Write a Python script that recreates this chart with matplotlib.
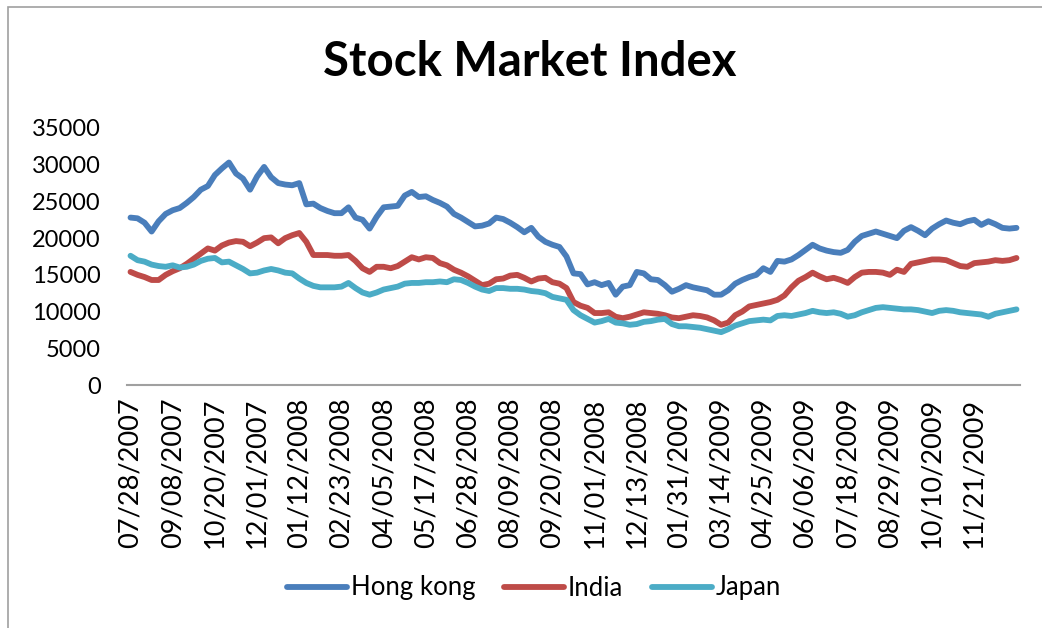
import matplotlib
matplotlib.use('Agg')
import matplotlib.pyplot as plt
from matplotlib.patches import Rectangle

# weekly closes, 07/28/2007 .. end of 2009
hong_kong = [22800, 22700, 22100, 20900, 22300, 23300, 23800, 24100, 24800, 25600,
             26600, 27100, 28600, 29500, 30300, 28800, 28100, 26600, 28400, 29700,
             28300, 27500, 27300, 27200, 27500, 24600, 24700, 24100, 23700, 23400,
             23400, 24200, 22800, 22500, 21300, 22900, 24200, 24300, 24400, 25800,
             26300, 25600, 25700, 25200, 24800, 24300, 23300, 22800, 22200, 21600,
             21700, 22000, 22800, 22600, 22100, 21500, 20800, 21400, 20200, 19500,
             19100, 18800, 17500, 15200, 15100, 13700, 14000, 13600, 13900, 12300,
             13400, 13600, 15400, 15200, 14400, 14300, 13600, 12700, 13100, 13600,
             13300, 13100, 12900, 12300, 12300, 12900, 13800, 14300, 14700, 15000,
             15900, 15400, 16900, 16800, 17100, 17700, 18400, 19100, 18600, 18300,
             18100, 18000, 18400, 19500, 20300, 20600, 20900, 20600, 20300, 20000,
             21000, 21500, 21000, 20400, 21300, 21900, 22400, 22100, 21900, 22300,
             22500, 21800, 22300, 21900, 21400, 21300, 21400]

india = [15400, 15000, 14700, 14300, 14300, 15000, 15500, 15900, 16500, 17200,
         17900, 18600, 18300, 19000, 19400, 19600, 19500, 18900, 19400, 20000,
         20100, 19300, 20000, 20400, 20700, 19500, 17700, 17700, 17700, 17600,
         17600, 17700, 16900, 15900, 15400, 16100, 16100, 15900, 16200, 16800,
         17400, 17100, 17400, 17300, 16600, 16300, 15700, 15300, 14800, 14200,
         13600, 13800, 14400, 14500, 14900, 15000, 14600, 14100, 14500, 14600,
         14000, 13800, 13200, 11300, 10800, 10500, 9800, 9800, 9900, 9300,
         9100, 9300, 9600, 9900, 9800, 9700, 9500, 9200, 9100, 9300,
         9500, 9400, 9200, 8800, 8200, 8500, 9500, 10000, 10700, 10900,
         11100, 11300, 11600, 12200, 13300, 14200, 14700, 15300, 14800, 14400,
         14600, 14300, 13900, 14700, 15300, 15400, 15400, 15300, 15000, 15700,
         15400, 16500, 16700, 16900, 17100, 17100, 17000, 16600, 16200, 16100,
         16600, 16700, 16800, 17000, 16900, 17000, 17300]

japan = [17600, 17000, 16800, 16400, 16200, 16100, 16300, 16000, 16100, 16400,
         16900, 17200, 17300, 16700, 16800, 16300, 15800, 15200, 15300, 15600,
         15800, 15600, 15300, 15200, 14500, 13900, 13500, 13300, 13300, 13300,
         13400, 13900, 13200, 12600, 12300, 12600, 13000, 13200, 13400, 13800,
         13900, 13900, 14000, 14000, 14100, 14000, 14400, 14300, 13900, 13400,
         13000, 12800, 13200, 13200, 13100, 13100, 13000, 12800, 12700, 12500,
         12000, 11800, 11600, 10200, 9500, 9000, 8500, 8700, 9000, 8500,
         8400, 8200, 8300, 8600, 8700, 8900, 9000, 8300, 8000, 8000,
         7900, 7800, 7600, 7400, 7200, 7600, 8100, 8400, 8700, 8800,
         8900, 8800, 9400, 9500, 9400, 9600, 9800, 10100, 9900, 9800,
         9900, 9700, 9300, 9500, 9900, 10200, 10500, 10600, 10500, 10400,
         10300, 10300, 10200, 10000, 9800, 10100, 10200, 10100, 9900, 9800,
         9700, 9600, 9300, 9700, 9900, 10100, 10300]

tick_labels = ['07/28/2007', '09/08/2007', '10/20/2007', '12/01/2007', '01/12/2008',
               '02/23/2008', '04/05/2008', '05/17/2008', '06/28/2008', '08/09/2008',
               '09/20/2008', '11/01/2008', '12/13/2008', '01/31/2009', '03/14/2009',
               '04/25/2009', '06/06/2009', '07/18/2009', '08/29/2009', '10/10/2009',
               '11/21/2009']

plt.rcParams['font.family'] = ['Lato', 'DejaVu Sans']

W, H = 1042, 628
fig = plt.figure(figsize=(W / 100, H / 100), dpi=100)
ax = fig.add_axes([127 / W, 1 - 385 / H, (1020 - 127) / W, (385 - 128) / H])

x = range(len(hong_kong))
ax.plot(x, hong_kong, color='#4A7EBB', lw=4.2, label='Hong kong', solid_capstyle='round')
ax.plot(x, india, color='#BE4B48', lw=4.2, label='India', solid_capstyle='round')
ax.plot(x, japan, color='#4BACC6', lw=4.2, label='Japan', solid_capstyle='round')

ax.set_xlim(-0.5, len(hong_kong) - 0.5)
ax.set_ylim(0, 35000)
ax.set_yticks(range(0, 35001, 5000))
ax.set_xticks(range(0, 6 * len(tick_labels), 6))
ax.set_xticklabels(tick_labels, rotation=90)
ax.tick_params(axis='both', length=0, colors='black')
ax.tick_params(axis='x', labelsize=19.5, pad=9)
ax.tick_params(axis='y', labelsize=17, pad=19)

for s in ['top', 'right', 'left']:
    ax.spines[s].set_visible(False)
ax.spines['bottom'].set_color('#A0A0A0')
ax.spines['bottom'].set_linewidth(1.5)

fig.text(530 / W, 1 - 62 / H, 'Stock Market Index', ha='center', va='center',
         fontsize=34, fontweight='bold')

fig.legend(loc='center', bbox_to_anchor=(534 / W, 1 - 588 / H), ncol=3, frameon=False,
           fontsize=18.5, handlelength=2.35, handletextpad=0.15, columnspacing=1.1)

fig.patches.append(Rectangle((8 / W, -0.1), 1.2, 1 - 7 / H + 0.1, transform=fig.transFigure,
                             fill=False, edgecolor='#a0a0a0', lw=1.2))

fig.savefig('out.png', dpi=100)
